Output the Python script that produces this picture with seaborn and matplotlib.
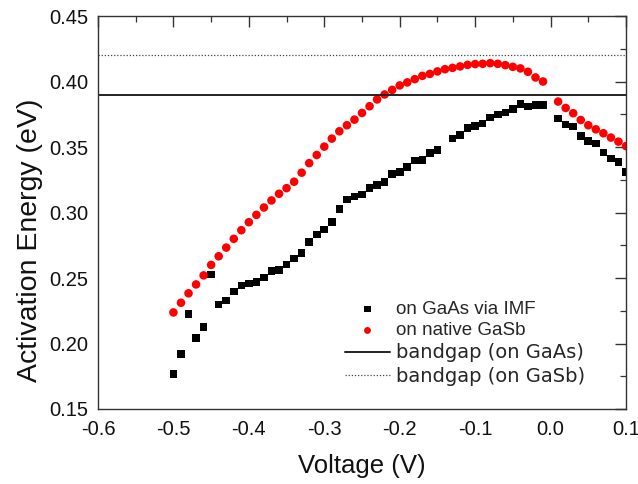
import numpy as np
import pandas as pd
import matplotlib
matplotlib.use("Agg")
import matplotlib.pyplot as plt
import seaborn as sns
from matplotlib.ticker import MultipleLocator

# ---- data ----
gaas_v = [-0.50, -0.49, -0.48, -0.47, -0.46, -0.45, -0.44, -0.43, -0.42, -0.41,
          -0.40, -0.39, -0.38, -0.37, -0.36, -0.35, -0.34, -0.33, -0.32, -0.31,
          -0.30, -0.29, -0.28, -0.27, -0.26, -0.25, -0.24, -0.23, -0.22, -0.21,
          -0.20, -0.19, -0.18, -0.17, -0.16, -0.15, -0.13, -0.12, -0.11, -0.10,
          -0.09, -0.08, -0.07, -0.06, -0.05, -0.04, -0.03, -0.02, -0.01,
          0.01, 0.02, 0.03, 0.04, 0.05, 0.06, 0.07, 0.08, 0.09, 0.10]
gaas_e = [0.1766, 0.1919, 0.2225, 0.2041, 0.2125, 0.2528, 0.2298, 0.2327, 0.2398, 0.2444,
          0.2457, 0.2470, 0.2505, 0.2554, 0.2562, 0.2602, 0.2650, 0.2689, 0.2776, 0.2832,
          0.2870, 0.2926, 0.3028, 0.3098, 0.3122, 0.3138, 0.3186, 0.3212, 0.3232, 0.3293,
          0.3308, 0.3347, 0.3396, 0.3400, 0.3454, 0.3475, 0.3564, 0.3591, 0.3643, 0.3660,
          0.3680, 0.3725, 0.3748, 0.3763, 0.3788, 0.3827, 0.3809, 0.3819, 0.3819,
          0.3719, 0.3673, 0.3656, 0.3584, 0.3546, 0.3528, 0.3457, 0.3411, 0.3385, 0.3308]

gasb_v = [-0.50, -0.49, -0.48, -0.47, -0.46, -0.45, -0.44, -0.43, -0.42, -0.41,
          -0.40, -0.39, -0.38, -0.37, -0.36, -0.35, -0.34, -0.33, -0.32, -0.31,
          -0.30, -0.29, -0.28, -0.27, -0.26, -0.25, -0.24, -0.23, -0.22, -0.21,
          -0.20, -0.19, -0.18, -0.17, -0.16, -0.15, -0.14, -0.13, -0.12, -0.11,
          -0.10, -0.09, -0.08, -0.07, -0.06, -0.05, -0.04, -0.03, -0.02, -0.01,
          0.01, 0.02, 0.03, 0.04, 0.05, 0.06, 0.07, 0.08, 0.09, 0.10]
gasb_e = [0.2237, 0.2311, 0.2383, 0.2451, 0.2520, 0.2600, 0.2666, 0.2732, 0.2799, 0.2865,
          0.2926, 0.2982, 0.3038, 0.3092, 0.3143, 0.3186, 0.3235, 0.3304, 0.3377, 0.3439,
          0.3503, 0.3564, 0.3620, 0.3666, 0.3709, 0.3760, 0.3811, 0.3863, 0.3901, 0.3936,
          0.3970, 0.3993, 0.4018, 0.4043, 0.4058, 0.4077, 0.4094, 0.4104, 0.4115, 0.4127,
          0.4133, 0.4135, 0.4140, 0.4135, 0.4125, 0.4112, 0.4100, 0.4074, 0.4031, 0.4000,
          0.3847, 0.3798, 0.3758, 0.3706, 0.3666, 0.3635, 0.3605, 0.3572, 0.3541, 0.3507]

bandgap_gaas = 0.39
bandgap_gasb = 0.42

labels = ["on GaAs via IMF", "on native GaSb", "bandgap (on GaAs)", "bandgap (on GaSb)"]

sns.set_theme(style="white")
plt.rcParams['font.family'] = ['Liberation Sans', 'DejaVu Sans']

fig = plt.figure(figsize=(6.38, 4.84), dpi=100)
ax = fig.add_axes([98/638, 1 - 409/484, (626-98)/638, (409-16)/484])

df1 = pd.DataFrame({"v": gaas_v, "e": gaas_e})
df2 = pd.DataFrame({"v": gasb_v, "e": gasb_e})
sns.scatterplot(data=df1, x="v", y="e", ax=ax, marker="s", s=30, color="black",
                edgecolor="none", linewidth=0, label=labels[0])
sns.scatterplot(data=df2, x="v", y="e", ax=ax, marker="o", s=38, color="#ff0000",
                edgecolor="none", linewidth=0, label=labels[1])
ax.axhline(bandgap_gaas, color="#222222", lw=1.4, label=labels[2])
ax.axhline(bandgap_gasb, color="#444444", lw=0.9, ls=(0, (1, 1.5)), label=labels[3])

ax.set_xlim(-0.6, 0.1)
ax.set_ylim(0.15, 0.45)
ax.xaxis.set_major_locator(MultipleLocator(0.1))
ax.xaxis.set_minor_locator(MultipleLocator(0.05))
ax.yaxis.set_major_locator(MultipleLocator(0.05))
ax.yaxis.set_minor_locator(MultipleLocator(0.025))
ax.xaxis.set_major_formatter(matplotlib.ticker.FormatStrFormatter('%.1f'))
ax.yaxis.set_major_formatter(matplotlib.ticker.FormatStrFormatter('%.2f'))
ax.tick_params(which="both", direction="in", top=True, right=True, colors="#333333",
               labelcolor="#111111")
ax.tick_params(which="major", length=8, width=1.0, labelsize=14.5)
ax.tick_params(axis="x", which="major", pad=8)
ax.tick_params(axis="y", which="major", pad=7)
ax.tick_params(which="minor", length=4.5, width=0.9)
for sp in ax.spines.values():
    sp.set_color("#333333")
    sp.set_linewidth(1.0)

ax.set_xlabel("Voltage (V)", fontsize=18.5, color="#111111", labelpad=11)
ax.set_ylabel("Activation Energy (eV)", fontsize=20.5, color="#111111")
ax.yaxis.set_label_coords((43 - 98) / 528, (409 - 240) / 393)

leg = ax.legend(loc="upper left", bbox_to_anchor=((345-98)/528, (409-301)/393),
                frameon=False, fontsize=13.5, borderpad=0, borderaxespad=0,
                handlelength=2.4, handletextpad=0.3, labelspacing=0.22, markerscale=0.8)
for t in leg.get_texts()[2:]:
    t.set_fontfamily(['DejaVu Sans'])
    t.set_fontsize(14)

fig.savefig("out.png", dpi=100)
